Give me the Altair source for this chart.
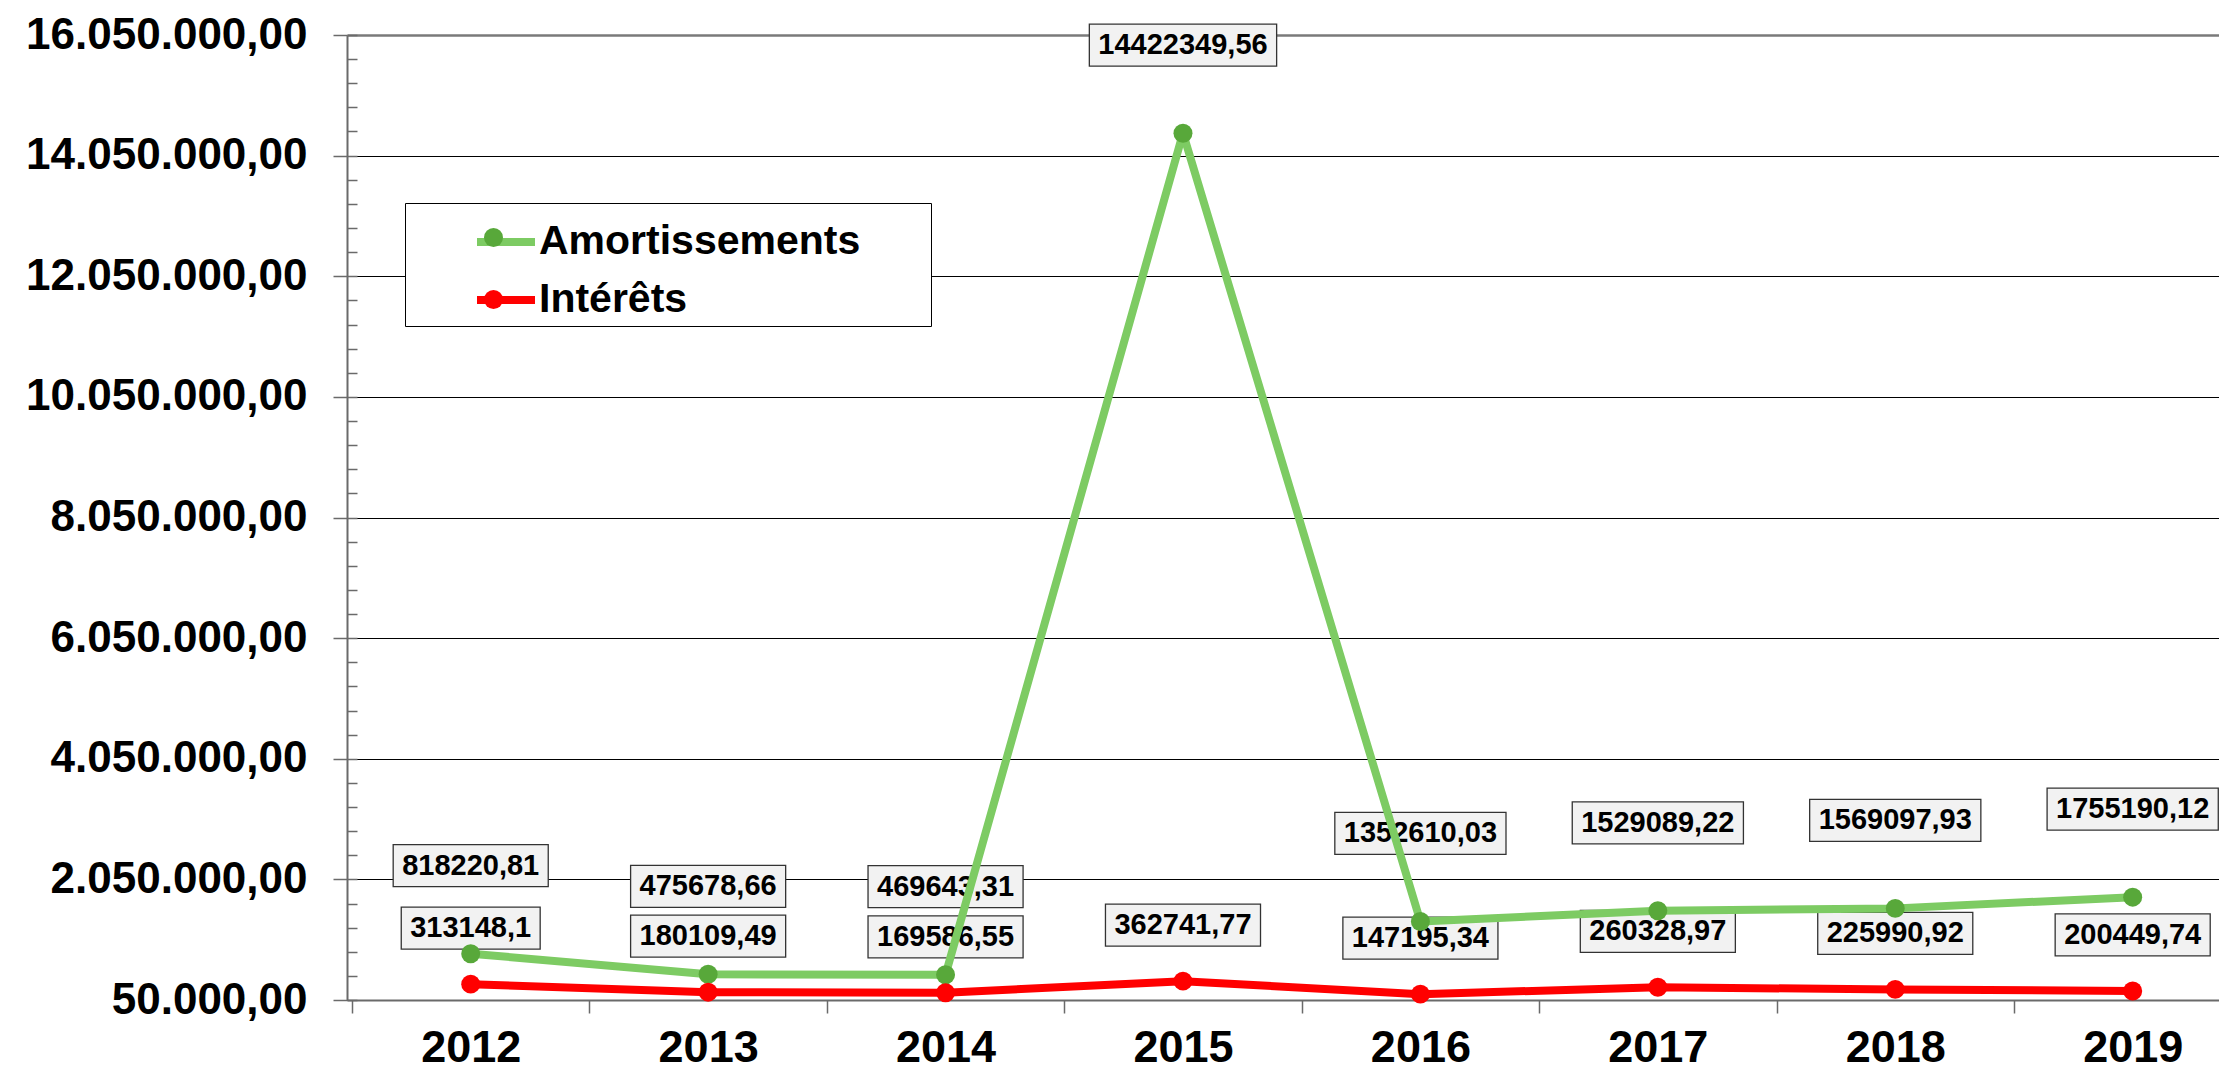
import altair as alt
import pandas as pd

# ---------------- data ----------------
years = [2012, 2013, 2014, 2015, 2016, 2017, 2018, 2019]
amortissements = [818220.81, 475678.66, 469643.31, 14422349.56,
                  1352610.03, 1529089.22, 1569097.93, 1755190.12]
interets = [313148.10, 180109.49, 169586.55, 362741.77,
            147195.34, 260328.97, 225990.92, 200449.74]
series_names = ["Amortissements", "Intérêts"]
line_colors = ["#7DCB63", "#FF0000"]
marker_colors = ["#58A83A", "#FF0000"]
y_major_ticks = [50000 + 2000000 * i for i in range(9)]
y_minor_ticks = [50000 + 400000 * i for i in range(41)]
x_band_edges = [2011.5 + i for i in range(8)]

# marker legend uses its own keys so that it is not merged with the line legend
marker_keys = [n + " " for n in series_names]

rows = []
for name, key, vals in zip(series_names, marker_keys, [amortissements, interets]):
    for yr, v in zip(years, vals):
        rows.append({"year": yr, "series": name, "marker": key, "value": v})
df = pd.DataFrame(rows)

FONT = "Liberation Sans"
AXIS_GREY = "#6a6a6a"

x_scale = alt.Scale(domain=[2011.5, 2019.3425], nice=False, zero=False)
y_scale = alt.Scale(domain=[50000, 16050000], nice=False, zero=False)

base = alt.Chart(df)

x_plain = alt.X("year:Q", scale=x_scale, axis=None)
y_plain = alt.Y("value:Q", scale=y_scale, axis=None)

x_main_axis = alt.Axis(
    values=years, format="d", tickSize=0, labelPadding=25,
    labelFontSize=45, labelFont=FONT, labelFontWeight="bold",
    labelColor="black", labelFlush=False, domainColor=AXIS_GREY,
    domainWidth=2, grid=False, title=None, orient="bottom",
)
y_main_axis = alt.Axis(
    values=y_major_ticks, format=",.2f", tickSize=14, tickColor=AXIS_GREY,
    tickWidth=1.5, labelPadding=26, labelFontSize=44, labelFont=FONT,
    labelFontWeight="bold", labelColor="black", labelLimit=500, grid=True,
    gridColor={"condition": {"test": "datum.value >= 16050000", "value": "#7a7a7a"},
               "value": "black"},
    gridWidth={"condition": {"test": "datum.value >= 16050000", "value": 2.5},
               "value": 1},
    domainColor=AXIS_GREY, domainWidth=2, title=None, orient="left",
)
x_tick_axis = alt.Axis(
    values=x_band_edges, tickSize=13, tickColor=AXIS_GREY, tickWidth=1.5,
    labels=False, domain=False, grid=False, title=None, orient="bottom",
)
y_tick_axis = alt.Axis(
    values=y_minor_ticks, tickSize=10, tickColor=AXIS_GREY, tickWidth=1.5,
    labels=False, domain=False, grid=False, title=None, orient="left",
    offset=-10,
)

LABEL_SIZE = 29


def label_layers(name, dy):
    b = base.transform_filter(alt.datum.series == name).transform_calculate(
        bw="29*(0.556*(length(format(datum.value, '.2~f'))-1)+0.278)+18"
    )
    box = b.mark_bar(
        fill="#F2F2F2", stroke="#333333", strokeWidth=1.3,
        yOffset=dy - 21, y2Offset=dy + 21,
    ).encode(
        x=x_plain, y=y_plain, y2="value:Q",
        size=alt.Size("bw:Q", scale=None, legend=None),
    )
    txt = b.mark_text(
        dy=dy, fontSize=LABEL_SIZE, font=FONT, fontWeight="bold",
        color="black", baseline="middle", align="center",
    ).encode(
        x=x_plain, y=y_plain,
        text=alt.Text("value:Q", format=".2~f"),
    )
    return [box, txt]


green_labels = label_layers("Amortissements", -88)
red_labels = label_layers("Intérêts", -56)

lines = base.mark_line(strokeWidth=8, strokeJoin="round").encode(
    x=alt.X("year:Q", scale=x_scale, axis=x_main_axis),
    y=alt.Y("value:Q", scale=y_scale, axis=y_main_axis),
    stroke=alt.Stroke(
        "series:N",
        scale=alt.Scale(domain=series_names, range=line_colors),
        legend=alt.Legend(
            orient="none", legendX=58, legendY=168,
            title="\u00a0", titleOrient="right", titlePadding=65,
            titleFontSize=41, symbolType="stroke", symbolSize=3364,
            symbolStrokeWidth=8, symbolOffset=62, labelOffset=0,
            padding=6, rowPadding=5, labelFontSize=41, labelFont=FONT,
            labelFontWeight="bold", labelColor="black", labelLimit=600,
            fillColor="white", strokeColor="black", zindex=0,
        ),
    ),
    detail="series:N",
)

points = base.mark_point(filled=True, size=360, opacity=1).encode(
    x=alt.X("year:Q", scale=x_scale, axis=x_tick_axis),
    y=alt.Y("value:Q", scale=y_scale, axis=y_tick_axis),
    fill=alt.Fill(
        "marker:N",
        scale=alt.Scale(domain=marker_keys, range=marker_colors),
        legend=alt.Legend(
            orient="none", legendX=58, legendY=183, title=None,
            symbolType="circle", symbolSize=360, symbolStrokeWidth=0,
            symbolOffset=69, labelExpr="''", padding=10, rowPadding=43,
            zindex=1,
        ),
    ),
)

chart = alt.layer(
    *green_labels, *red_labels, lines, points
).resolve_axis(
    x="independent", y="independent"
).resolve_scale(
    x="shared", y="shared"
).properties(
    width=1872, height=965,
    autosize=alt.AutoSizeParams(type="none"),
    padding={"left": 339, "top": 27, "right": 0, "bottom": 70},
).configure_view(
    fill="#F2F2F2", stroke=None
).configure(
    locale={"number": {"decimal": ",", "thousands": ".", "grouping": [3],
                       "currency": ["", ""]}},
)

chart.save("out.html", embed_options={"renderer": "svg", "actions": False})
